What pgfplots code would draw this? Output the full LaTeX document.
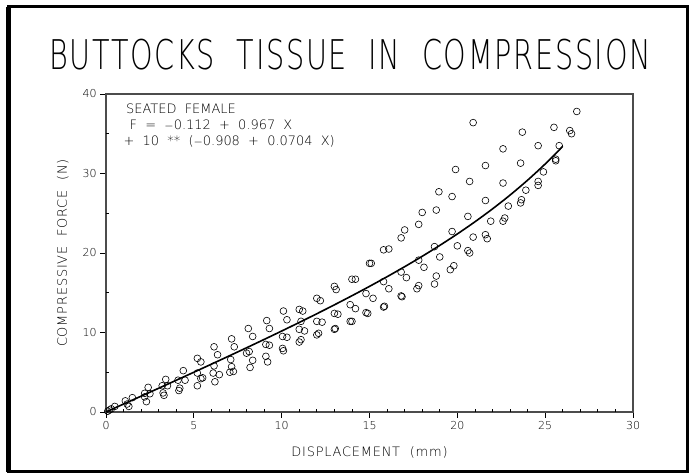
\documentclass[border=0pt]{standalone}
\usepackage{fontspec}
\usepackage{pgfplots}
\pgfplotsset{compat=1.18}
\newfontfamily\plt{DejaVuSans-ExtraLight.ttf}
\newfontfamily\pltw[LetterSpace=6]{DejaVuSans-ExtraLight.ttf}
\begin{document}
\begin{tikzpicture}
\begin{scope}[x=1bp,y=1bp]
\path[use as bounding box] (0,0) rectangle (694,475);
\draw[line width=3bp] (8,3) rectangle (687,468);
\draw[line width=5bp] (8,3)--(8,468);
\node at (350,420) {\scalebox{0.96}[1.37]{\pltw\fontsize{30}{30}\selectfont BUTTOCKS\ \ TISSUE\ \ IN\ \ COMPRESSION}};
\end{scope}
\begin{axis}[
  at={(106bp,63bp)}, anchor=south west, scale only axis,
  width=527bp, height=318bp,
  xmin=0, xmax=30, ymin=0, ymax=40,
  xtick={0,5,...,30}, ytick={0,10,20,30,40},
  xtick pos=bottom, ytick pos=left,
  tick align=outside, major tick length=6bp,
  extra x ticks={1,2,3,4,6,7,8,9,11,12,13,14,16,17,18,19,21,22,23,24,26,27,28,29},
  extra x tick labels={},
  extra y ticks={5,15,25,35}, extra y tick labels={},
  extra tick style={tick align=inside, major tick length=3bp},
  axis line style={line width=1.6bp, black!70},
  tick style={line width=0.8bp, black},
  /pgf/number format/assume math mode=true,
  tick label style={font=\plt\fontsize{11}{11}\selectfont},
  xlabel={DISPLACEMENT\ \ (mm)},
  ylabel={COMPRESSIVE\ \ FORCE\ \ (N)},
  label style={font=\pltw\fontsize{13}{13}\selectfont},
  xlabel style={at={(axis description cs:0.5,-0.126)}, anchor=center},
  ylabel style={at={(axis description cs:-0.082,0.5)}, anchor=center},
  clip=false,
]
\addplot[only marks, mark=o, mark size=3.4bp, mark options={line width=0.6bp, black}] coordinates {
(0.1,0.1)(0.2,0.25)(0.5,0.7)(0.3,0.4)(1.1,1.4)(1.3,0.7)(1.2,1.0)(1.5,1.8)
(2.2,2.35)(2.2,1.9)(2.3,1.3)(2.4,3.1)(2.5,2.3)
(3.2,3.3)(3.3,2.1)(3.4,4.1)(3.5,3.3)(3.25,2.4)
(4.1,4.0)(4.2,3.0)(4.4,5.2)(4.5,4.0)(4.15,2.7)
(5.2,6.75)(5.4,6.3)(5.2,4.9)(5.4,4.2)(5.2,3.3)(5.5,4.3)
(6.15,8.2)(6.35,7.2)(6.15,5.8)(6.45,4.7)(6.2,3.8)(6.1,4.9)
(7.15,9.2)(7.3,8.2)(7.1,6.6)(7.15,5.7)(7.25,5.1)(7.05,5.0)
(8.1,10.5)(8.35,9.5)(8.15,7.6)(8.35,6.5)(8.2,5.6)(8.0,7.4)
(9.15,11.5)(9.3,10.5)(9.1,8.5)(9.3,8.4)(9.1,7.0)(9.2,6.3)
(10.1,12.7)(10.3,11.6)(10.05,9.5)(10.3,9.4)(10.05,8.0)(10.1,7.7)
(11.0,12.9)(11.2,12.7)(11.1,11.4)(11.0,10.4)(11.3,10.2)(11.0,8.8)(11.1,9.1)
(12.0,14.3)(12.2,14.0)(12.0,11.4)(12.3,11.3)(12.0,9.7)(12.1,9.9)
(13.0,15.8)(13.1,15.4)(13.0,12.4)(13.2,12.3)(13.0,10.4)(13.05,10.5)
(14.0,16.7)(14.2,16.7)(13.9,13.5)(14.2,13.0)(13.9,11.4)(14.0,11.4)
(15.0,18.7)(15.1,18.7)(14.8,14.9)(15.2,14.3)(14.9,12.4)(14.8,12.5)
(15.8,20.4)(16.1,20.5)(15.8,16.4)(16.1,15.5)(15.8,13.2)(15.85,13.3)
(17.0,22.9)(16.8,21.9)(16.8,17.6)(17.1,16.9)(16.8,14.6)(16.85,14.5)
(18.0,25.1)(17.8,23.6)(17.8,19.1)(18.1,18.2)(17.8,15.9)(17.7,15.5)
(18.8,25.4)(18.95,27.7)(18.7,20.8)(19.0,19.5)(18.8,17.1)(18.7,16.1)
(19.9,30.5)(19.7,27.1)(19.7,22.7)(20.0,20.9)(19.8,18.4)(19.6,17.9)
(20.9,36.4)(20.7,29.0)(20.6,24.6)(20.9,22.0)(20.6,20.3)(20.7,20.0)
(21.6,31.0)(21.6,26.6)(21.9,24.0)(21.6,22.3)(21.7,21.8)
(22.6,33.1)(22.6,28.8)(22.9,25.9)(22.7,24.4)(22.6,24.0)
(23.7,35.2)(23.6,31.3)(23.9,27.9)(23.65,26.7)(23.6,26.3)
(24.6,33.5)(24.9,30.2)(24.6,29.0)(24.6,28.5)
(25.5,35.8)(25.8,33.5)(25.6,31.8)(25.6,31.6)
(26.8,37.8)(26.4,35.4)(26.5,35.0)
};
\addplot[black, line width=1.6bp, smooth] coordinates {
(0,0.012)(1,1.000)(2,1.993)(3,2.990)(4,3.993)(5,5.001)(6,6.017)(7,7.042)
(8,8.077)(9,9.123)(10,10.184)(11,11.261)(12,12.358)(13,13.477)(14,14.624)
(15,15.802)(16,17.017)(17,18.275)(18,19.585)(19,20.956)(20,22.397)
(21,23.922)(22,25.546)(23,27.285)(24,29.160)(25,31.195)(26,33.417)
};
\node[anchor=base west, font=\plt\fontsize{13}{13}\selectfont] at (axis cs:0.95,37.55) {SEATED\ \ FEMALE};
\node[anchor=base west, font=\plt\fontsize{13}{13}\selectfont] at (axis cs:1.15,35.5) {F\ \ =\ \ $-$0.112\ \ +\ \ 0.967\ \ X};
\node[anchor=base west, font=\plt\fontsize{13}{13}\selectfont] at (axis cs:0.8,33.5) {+\ \ 10\ \ **\ \ ($-$0.908\ \ +\ \ 0.0704\ \ X)};
\end{axis}
\end{tikzpicture}
\end{document}
